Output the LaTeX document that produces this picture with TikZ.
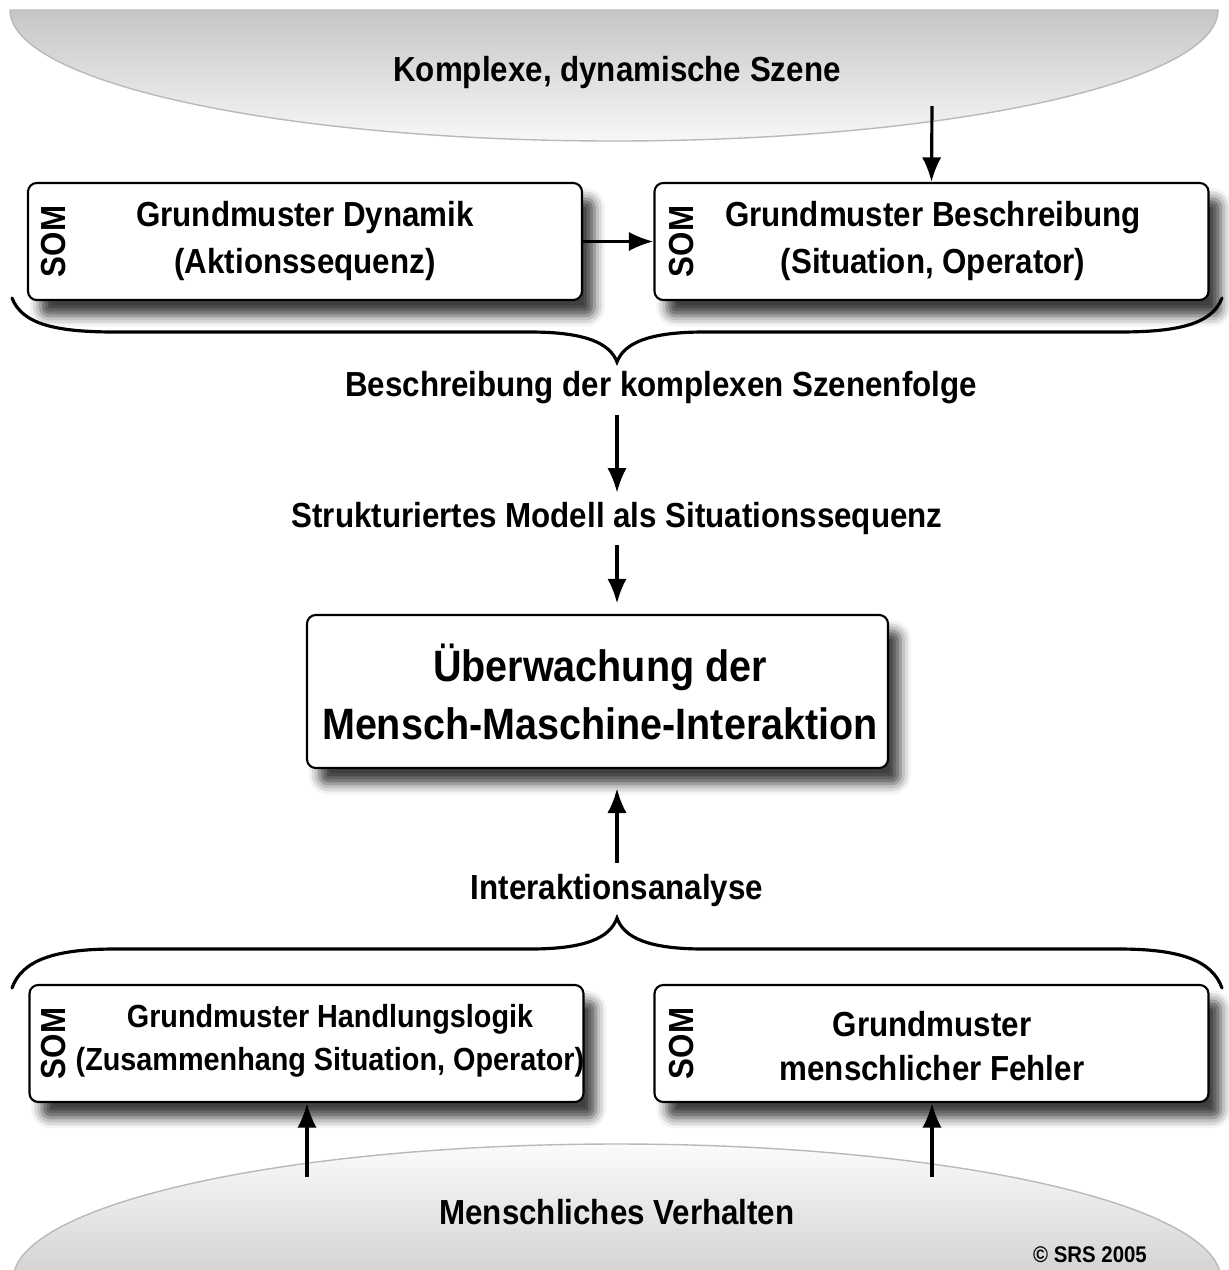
\documentclass[tikz,border=0pt]{standalone}
\usepackage{fontspec}
\setmainfont{Liberation Sans}[FakeStretch=0.9]
\usetikzlibrary{arrows.meta}
\usetikzlibrary{shadows.blur}

\tikzset{
  sombox/.style={draw=black, line width=1.2pt, rounded corners=5pt, fill=white,
    minimum width=11.08cm, minimum height=2.34cm, inner sep=0pt,
    blur shadow={shadow xshift=7pt, shadow yshift=-9pt, shadow blur radius=6pt, shadow opacity=75}},
  mainbox/.style={sombox, minimum width=11.62cm, minimum height=3.06cm},
  boxtxt/.style={font=\bfseries\fontsize{19.8}{27}\selectfont, align=center, inner sep=0pt},
  bigtxt/.style={font=\bfseries\fontsize{25}{32.5}\selectfont, align=center, inner sep=0pt},
  somtxt/.style={font=\bfseries\fontsize{19.8}{20}\selectfont, rotate=90, inner sep=0pt},
  lbl/.style={font=\bfseries\fontsize{19.8}{24}\selectfont, inner sep=2pt},
  arr/.style={line width=1.8pt, -{Latex[length=14pt,width=11pt]}},
  brace/.style={line width=1.8pt, line cap=round}
}

\begin{document}
\begin{tikzpicture}[x=0.2mm, y=-0.2mm]
\useasboundingbox (0,0) rectangle (1229,1270);

% --- scenes (cut ellipses) ---
\shade[top color=gray!45, bottom color=gray!6, draw=gray!55, line width=0.8pt]
  (1218,10) arc (0:180:604 and 131) -- cycle;
\begin{scope}
  \clip (0,0) rectangle (1229,1270);
  \shade[top color=gray!3, bottom color=gray!36, draw=gray!55, line width=0.8pt]
    (13,1280) arc (180:360:604 and 136) -- cycle;
\end{scope}
\node[lbl] (scene) at (617,72) {Komplexe, dynamische Szene};
\node[lbl] (human) at (617,1212) {Menschliches Verhalten};
\node[font=\bfseries\fontsize{12.9}{15}\selectfont, inner sep=0pt] (copy) at (1090,1255) {© SRS 2005};
\coordinate (sceneout) at (932,106);
\coordinate (humanout1) at (307,1177);
\coordinate (humanout2) at (932,1177);

% --- SOM boxes ---
\node[sombox] (dyn) at (305,241.5) {};
\node[sombox] (desc) at (931.5,241.5) {};
\node[sombox] (logic) at (306.5,1043.5) {};
\node[sombox] (err) at (931.5,1043.5) {};

\node[somtxt] (dynsom) at ([xshift=0.54cm]dyn.west) {SOM};
\node[somtxt] (descsom) at ([xshift=0.56cm]desc.west) {SOM};
\node[somtxt] (logicsom) at ([xshift=0.5cm]logic.west) {SOM};
\node[somtxt] (errsom) at ([xshift=0.56cm]err.west) {SOM};

\node[boxtxt] (dyntxt) at (305,241) {Grundmuster Dynamik\\(Aktionssequenz)};
\node[boxtxt] (desctxt) at (933,241) {Grundmuster Beschreibung\\(Situation, Operator)};
\node[boxtxt, font=\bfseries\fontsize{18.2}{24.5}\selectfont] (logictxt) at (330,1041) {Grundmuster Handlungslogik\\(Zusammenhang Situation, Operator)};
\node[boxtxt, font=\bfseries\fontsize{19.8}{25}\selectfont] (errtxt) at (932,1046) {Grundmuster\\menschlicher Fehler};

% --- middle chain ---
\node[lbl] (sequence) at (661,388) {Beschreibung der komplexen Szenenfolge};
\node[lbl] (model) at (617,518) {Strukturiertes Modell als Situationssequenz};
\node[mainbox] (mmi) at (597.5,691.5) {};
\node[bigtxt] (mmitxt) at (600,692) {Überwachung der\\Mensch-Maschine-Interaktion};
\node[lbl] (analysis) at (617,890) {Interaktionsanalyse};

% braces
\draw[brace] (12,298) .. controls (22,324) and (55,332) .. (115,332) -- (530,332)
  .. controls (585,332) and (610,343) .. (617,362)
  .. controls (624,343) and (649,332) .. (704,332) -- (1119,332)
  .. controls (1179,332) and (1212,324) .. (1222,298);
\draw[brace] (12,988) .. controls (22,960) and (55,949) .. (115,949) -- (530,949)
  .. controls (585,949) and (610,938) .. (617,918)
  .. controls (624,938) and (649,949) .. (704,949) -- (1119,949)
  .. controls (1179,949) and (1212,960) .. (1222,988);

% arrows
\draw[arr] (sceneout) -- (desc.north);
\draw[arr] (dyn.east) -- (desc.west);
\draw[arr, shorten <=4pt, shorten >=3pt] (sequence.south -| model.north) -- (model.north);
\draw[arr, shorten <=4pt, shorten >=6pt] (model.south) -- (mmi.north -| model.south);
\draw[arr, shorten <=4pt, shorten >=11pt] (analysis.north) -- (mmi.south -| analysis.north);
\draw[arr] (humanout1) -- (logic.south -| humanout1);
\draw[arr] (humanout2) -- (err.south -| humanout2);

\end{tikzpicture}
\end{document}
